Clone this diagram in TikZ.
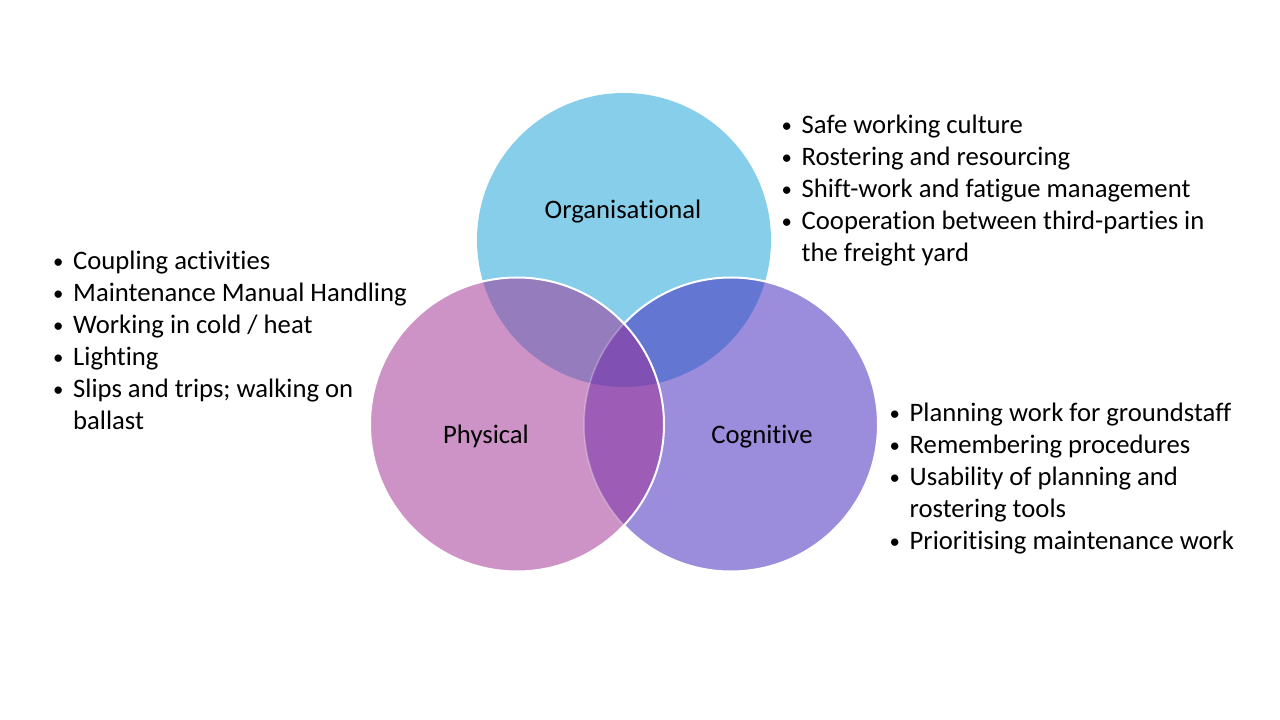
\documentclass[tikz,border=0pt]{standalone}
\usepackage{fontspec}
\setmainfont{Carlito}[Ligatures={NoCommon}]
\usetikzlibrary{positioning}
\definecolor{cT}{RGB}{135,206,234}
\definecolor{cL}{RGB}{205,147,198}
\definecolor{cR}{RGB}{155,141,219}
\definecolor{cTL}{RGB}{148,124,189}
\definecolor{cTR}{RGB}{99,118,210}
\definecolor{cLR}{RGB}{157,93,182}
\definecolor{cC}{RGB}{128,80,178}
\tikzset{
  lbl/.style={inner sep=0pt, anchor=base, font=\fontsize{26.67}{32}\selectfont},
  lst/.style={inner sep=0pt, anchor=base west, align=left, font=\fontsize{26.67}{32}\selectfont},
  rim/.style={draw=white, line width=2pt}
}
\newcommand{\bul}{\makebox[22pt][l]{\hspace{2pt}\raisebox{1.5pt}{\scalebox{0.78}{\textbullet}}}}
\begin{document}
\begin{tikzpicture}[x=1pt,y=1pt]
\useasboundingbox[fill=white] (0,0) rectangle (1280,720);
\coordinate (T) at (624,480);
\coordinate (L) at (517,295.5);
\coordinate (R) at (731,295.5);
\def\rr{147pt}
% top and right
\fill[cT] (T) circle (\rr);
\fill[cR] (R) circle (\rr);
\begin{scope}
  \clip (T) circle (\rr);
  \fill[cTR] (R) circle (\rr);
\end{scope}
\draw[rim] (R) circle (\rr);
% left
\fill[cL] (L) circle (\rr);
\begin{scope}
  \clip (L) circle (\rr);
  \fill[cTL] (T) circle (\rr);
  \fill[cLR] (R) circle (\rr);
  \clip (T) circle (\rr);
  \fill[cC] (R) circle (\rr);
\end{scope}
\begin{scope}
  \clip (L) circle (\rr);
  \draw[draw=white, opacity=0.3, line width=1.5pt] (R) circle (\rr);
\end{scope}
\draw[rim] (L) circle (\rr);
% labels
\node[lbl] (org) at (623,501.5) {Organisational};
\node[lbl] (phy) at (486,276) {Physical};
\node[lbl] (cog) at (762,276) {Cognitive};
% lists
\node[lst] (orglist) at (779.5,586) {\begin{tabular}[t]{@{}l@{}}
\bul Safe working culture\\
\bul Rostering and resourcing\\
\bul Shift-work and fatigue management\\
\bul Cooperation between third-parties in\\
\hspace{22pt}the freight yard
\end{tabular}};
\node[lst] (phylist) at (51,450) {\begin{tabular}[t]{@{}l@{}}
\bul Coupling activities\\
\bul Maintenance Manual Handling\\
\bul Working in cold / heat\\
\bul Lighting\\
\bul Slips and trips; walking on\\
\hspace{22pt}ballast
\end{tabular}};
\node[lst] (coglist) at (887.5,298) {\begin{tabular}[t]{@{}l@{}}
\bul Planning work for groundstaff\\
\bul Remembering procedures\\
\bul Usability of planning and\\
\hspace{22pt}rostering tools\\
\bul Prioritising maintenance work
\end{tabular}};
\end{tikzpicture}
\end{document}
